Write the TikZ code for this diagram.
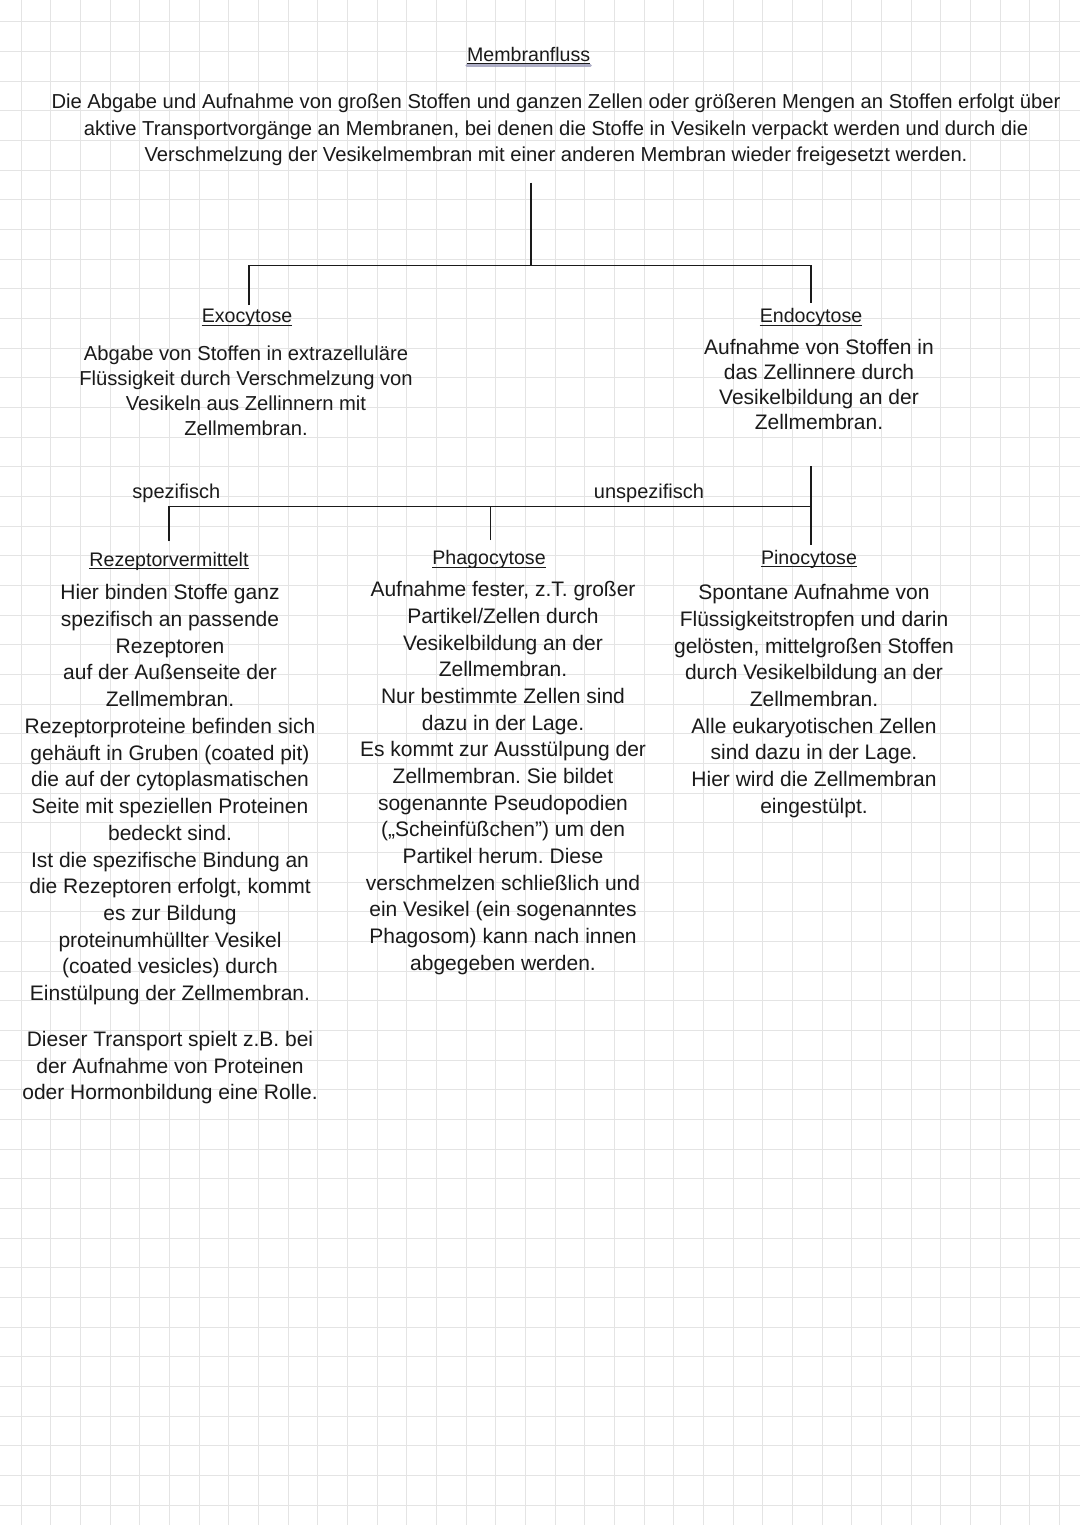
\documentclass[tikz,border=0pt]{standalone}
\usepackage{fontspec}
\setmainfont{Liberation Sans}
\frenchspacing
\definecolor{gridc}{HTML}{E4E4E4}
\definecolor{ink}{HTML}{1A1A1A}
\definecolor{shade}{HTML}{9A9AB8}
\newcommand\setfs[2]{\fontsize{#1}{#2}\selectfont}
\begin{document}
\begin{tikzpicture}[x=1pt,y=-1pt,
  txt/.style={font=\setfs{21}{#1}, align=center, inner sep=0pt, anchor=north, text=ink},
  txt/.default=26.7,
  txts/.style={font=\setfs{20.2}{#1}, align=center, inner sep=0pt, anchor=north, text=ink},
  ttl/.style={font=\setfs{19.6}{24}, inner sep=0pt, anchor=base, text=ink},
  lbl/.style={font=\setfs{20}{24}, inner sep=0pt, anchor=base, text=ink},
  conn/.style={draw=ink, line width=1.8pt},
  uline/.style={draw=ink, line width=1pt},
  gridline/.style={draw=gridc, line width=0.9pt}
  ]
\useasboundingbox (0,0) rectangle (1080,1525);
\fill[white] (0,0) rectangle (1080,1525);
% grid paper
\foreach \i in {0,...,35} \draw[gridline] ({21+29.67*\i},0) -- ({21+29.67*\i},1525);
\foreach \j in {0,...,50} \draw[gridline] (0,{21.7+29.67*\j}) -- (1080,{21.7+29.67*\j});

% title
\node[ttl] (title) at (528.7,61.5) {Membranfluss};
\draw[draw=shade, line width=3pt, line cap=round, opacity=0.8] ([yshift=-4.5pt]title.base west) -- ([yshift=-4.5pt]title.base east);
\draw[uline] ([yshift=-2.5pt]title.base west) -- ([yshift=-2.5pt]title.base east);

% intro
\node[txts=26.7] (intro) at (556,89.5) {\strut Die Abgabe und Aufnahme von großen Stoffen und ganzen Zellen oder größeren Mengen an Stoffen erfolgt über\\
aktive Transportvorgänge an Membranen, bei denen die Stoffe in Vesikeln verpackt werden und durch die\\
Verschmelzung der Vesikelmembran mit einer anderen Membran wieder freigesetzt werden.};

% Exocytose
\node[ttl] (exoT) at (247,322.7) {Exocytose};
\draw[uline] ([yshift=-2.5pt]exoT.base west) -- ([yshift=-2.5pt]exoT.base east);
\node[txts=25.3] (exoB) at (246,342.1) {\strut Abgabe von Stoffen in extrazelluläre\\
Flüssigkeit durch Verschmelzung von\\
Vesikeln aus Zellinnern mit\\
Zellmembran.};

% Endocytose
\node[ttl] (endoT) at (811,322.7) {Endocytose};
\draw[uline] ([yshift=-2.5pt]endoT.base west) -- ([yshift=-2.5pt]endoT.base east);
\node[txt=24.8] (endoB) at (819,337.4) {\strut Aufnahme von Stoffen in\\
das Zellinnere durch\\
Vesikelbildung an der\\
Zellmembran.};

% labels
\node[lbl] (lspez) at (176.4,498.5) {spezifisch};
\node[lbl] (lunspez) at (649,498.5) {unspezifisch};

% Rezeptorvermittelt
\node[ttl] (rezT) at (169,566) {Rezeptorvermittelt};
\draw[uline] ([yshift=-2.5pt]rezT.base west) -- ([yshift=-2.5pt]rezT.base east);
\node[txt=26.73] (rezB) at (170,580.8) {\strut Hier binden Stoffe ganz\\
spezifisch an passende\\
Rezeptoren\\
auf der Außenseite der\\
Zellmembran.\\
Rezeptorproteine befinden sich\\
gehäuft in Gruben (coated pit)\\
die auf der cytoplasmatischen\\
Seite mit speziellen Proteinen\\
bedeckt sind.\\
Ist die spezifische Bindung an\\
die Rezeptoren erfolgt, kommt\\
es zur Bildung\\
proteinumhüllter Vesikel\\
(coated vesicles) durch\\
Einstülpung der Zellmembran.};
\node[txt=26.5] (rezB2) at (170,1028) {\strut Dieser Transport spielt z.B. bei\\
der Aufnahme von Proteinen\\
oder Hormonbildung eine Rolle.};

% Phagocytose
\node[ttl] (phaT) at (489,564.7) {Phagocytose};
\draw[uline] ([yshift=-2.5pt]phaT.base west) -- ([yshift=-2.5pt]phaT.base east);
\node[txt=26.67] (phaB) at (503,577.8) {\strut Aufnahme fester, z.T. großer\\
Partikel/Zellen durch\\
Vesikelbildung an der\\
Zellmembran.\\
Nur bestimmte Zellen sind\\
dazu in der Lage.\\
Es kommt zur Ausstülpung der\\
Zellmembran. Sie bildet\\
sogenannte Pseudopodien\\
(„Scheinfüßchen") um den\\
Partikel herum. Diese\\
verschmelzen schließlich und\\
ein Vesikel (ein sogenanntes\\
Phagosom) kann nach innen\\
abgegeben werden.};

% Pinocytose
\node[ttl] (pinT) at (809,564) {Pinocytose};
\draw[uline] ([yshift=-2.5pt]pinT.base west) -- ([yshift=-2.5pt]pinT.base east);
\node[txt=26.67] (pinB) at (814,581.1) {\strut Spontane Aufnahme von\\
Flüssigkeitstropfen und darin\\
gelösten, mittelgroßen Stoffen\\
durch Vesikelbildung an der\\
Zellmembran.\\
Alle eukaryotischen Zellen\\
sind dazu in der Lage.\\
Hier wird die Zellmembran\\
eingestülpt.};

% tree 1
\coordinate (r0) at (530.7,182.7);
\coordinate (r1) at (530.7,265.5);
\coordinate (exoC) at (249,305);
\coordinate (endoC) at (811,303);
\draw[conn] (r0) -- (r1);
\draw[conn] (exoC) -- (exoC |- r1) -- (endoC |- r1) -- (endoC);

% tree 2
\coordinate (s0) at (811,466);
\coordinate (s1) at (811,506.5);
\coordinate (rezC) at (169,541);
\coordinate (phaC) at (490.5,540);
\coordinate (pinC) at (811,545);
\draw[conn] (s0) -- (pinC);
\draw[conn] (rezC) -- (rezC |- s1) -- (s1);
\draw[conn] (phaC) -- (phaC |- s1);
\end{tikzpicture}
\end{document}
